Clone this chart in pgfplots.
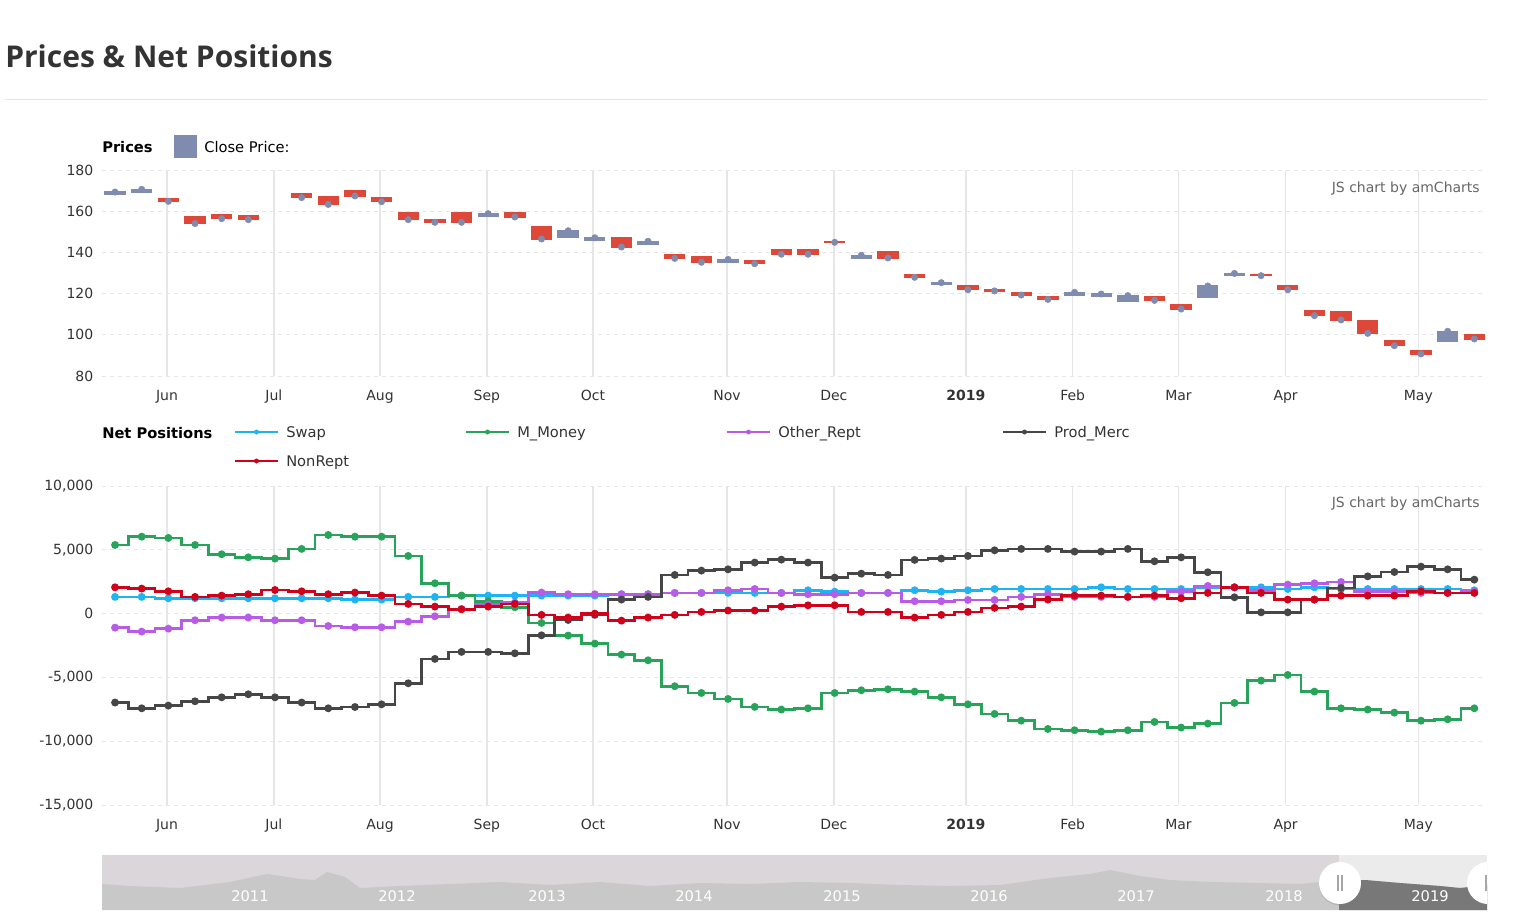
\documentclass[border=0pt]{standalone}
\usepackage{pgfplots}
\pgfplotsset{compat=1.18}
\usepackage{pgfplotstable}
\usepackage{fontspec}
\setmainfont{DejaVu Sans}
\newfontfamily\titlefont{Open Sans}
\usetikzlibrary{shadows}
\definecolor{txt}{RGB}{51,51,51}
\definecolor{upc}{RGB}{127,140,176}
\definecolor{dnc}{RGB}{221,72,56}
\definecolor{gridc}{RGB}{230,230,230}
\definecolor{swapc}{RGB}{30,180,242}
\definecolor{moneyc}{RGB}{39,164,90}
\definecolor{otherc}{RGB}{184,92,232}
\definecolor{mercc}{RGB}{70,70,70}
\definecolor{nonc}{RGB}{208,2,27}
\definecolor{navbg}{RGB}{218,214,218}
\definecolor{navfg}{RGB}{200,200,200}
\definecolor{navsel}{RGB}{235,235,235}
\definecolor{navdark}{RGB}{120,120,120}

\pgfplotstableread{
x o c
0 168.0 169.3
1 169.3 170.6
14 157.3 158.8
17 147.3 150.5
18 145.9 147.1
20 143.9 145.4
23 135.4 136.6
28 137.3 138.6
31 124.7 125.3
36 119.3 120.6
37 118.7 119.8
38 116.1 119.0
41 118.0 123.7
42 128.7 129.8
50 96.7 101.7
}\upT
\pgfplotstableread{
x o c
2 165.9 164.8
3 157.2 154.0
4 158.5 156.4
5 157.8 155.9
7 168.5 166.6
8 167.1 163.3
9 169.8 167.4
10 166.6 164.6
11 159.3 155.9
12 155.9 154.6
13 159.3 154.6
15 159.3 157.2
16 152.5 146.5
19 147.1 142.6
21 138.7 137.1
22 137.8 135.2
24 135.8 134.5
25 141.2 139.1
26 141.2 139.1
27 145.4 144.9
29 140.5 137.3
30 129.2 127.9
32 123.8 121.9
33 121.9 121.3
34 120.6 119.3
35 118.7 117.2
39 118.6 116.7
40 114.5 112.5
43 129.2 128.7
44 123.8 121.9
45 111.9 109.3
46 111.1 107.2
47 106.6 100.7
48 97.1 94.7
49 92.5 90.7
51 99.9 98.0
}\dnT
\pgfplotstableread{
x swap money other merc non
0 1310 5380 -1100 -6970 2060
1 1310 6030 -1410 -7420 1960
2 1200 5930 -1180 -7210 1750
3 1200 5380 -520 -6870 1310
4 1200 4650 -310 -6560 1410
5 1200 4410 -310 -6320 1520
6 1200 4310 -520 -6560 1850
7 1200 5070 -520 -6970 1750
8 1200 6160 -970 -7420 1520
9 1100 6030 -1070 -7320 1650
10 1100 6030 -1070 -7110 1410
11 1310 4520 -630 -5460 760
12 1310 2380 -210 -3550 550
13 1410 1410 360 -3000 340
14 1410 970 700 -3000 550
15 1410 500 860 -3110 760
16 1410 -730 1650 -1700 -100
17 1410 -1720 1520 -500 -310
18 1410 -2350 1520 -100 0
19 1520 -3210 1520 1100 -550
20 1520 -3660 1520 1310 -310
21 1620 -5690 1620 3030 -100
22 1620 -6220 1620 3370 130
23 1620 -6690 1830 3470 240
24 1620 -7310 1930 4000 240
25 1620 -7520 1620 4230 550
26 1830 -7420 1520 4000 650
27 1720 -6220 1520 2820 650
28 1620 -6010 1620 3130 130
29 1620 -5930 1620 3030 130
30 1830 -6110 970 4210 -310
31 1720 -6560 970 4310 -100
32 1830 -7110 1070 4520 130
33 1930 -7860 1070 4960 450
34 1930 -8390 1310 5070 550
35 1930 -9040 1520 5070 1100
36 1930 -9140 1310 4860 1410
37 2060 -9250 1310 4860 1410
38 1930 -9140 1310 5070 1310
39 1930 -8490 1310 4100 1410
40 1930 -8930 1720 4410 1200
41 2060 -8620 2170 3240 1620
42 2060 -7000 2060 1280 2060
43 2060 -5250 1830 100 1620
44 1930 -4810 2270 100 1100
45 2060 -6110 2380 1100 1100
46 1930 -7420 2480 2010 1410
47 1930 -7520 1720 2920 1410
48 1930 -7760 1720 3260 1410
49 1930 -8390 1620 3680 1750
50 1930 -8280 1620 3470 1620
51 1830 -7420 1720 2660 1620
}\netT
\pgfplotstableread{
x h
102 26
130 24
180 22
230 28
267 36
300 31
315 30
327 38
345 33
360 22
400 24
450 26
500 28
550 25
600 28
650 24
700 27
750 26
800 28
850 27
900 25
950 24
1000 25
1050 32
1090 36
1110 40
1140 34
1170 30
1210 28
1260 27
1300 26
1339 30
1365 30
1400 27
1440 24
1460 22
1487 25
}\navT

\pgfplotsset{
  base/.style={
    scale only axis, width=1037.25pt,
    xmin=-0.49, xmax=51.4,
    axis line style={draw=none}, tick style={draw=none},
    xtick={1.95,5.96,9.94,13.95,17.93,22.96,26.97,31.92,35.93,39.9,43.92,48.9},
    xticklabels={Jun,Jul,Aug,Sep,Oct,Nov,Dec,\textbf{2019},Feb,Mar,Apr,May},
    xmajorgrids, ymajorgrids,
    x grid style={gridc, line width=1.1pt},
    y grid style={gridc, dashed, line width=0.6pt},
    ticklabel style={font=\fontsize{10.5}{12}\selectfont, text=txt},
    xticklabel style={yshift=-7pt},
    yticklabel style={xshift=-3pt},
    /pgf/number format/assume math mode=true,
    /pgf/number format/1000 sep={,},
    clip=false,
  },
  net/.style={const plot mark mid, line width=2pt, mark=*, mark size=1.9pt},
}

\begin{document}
\begin{tikzpicture}[x=0.75pt,y=-0.75pt]
\path[use as bounding box] (0,0) rectangle (1522,917);
\node[anchor=base west, text=txt, inner sep=0, font=\titlefont\fontsize{22.5}{26}\selectfont\bfseries] at (5,68) {Prices \& Net Positions};
\draw[gridc, line width=0.75pt] (5,100) -- (1487,100);

% Prices legend
\node[anchor=base west, inner sep=0, font=\fontsize{11}{13}\selectfont\bfseries, text=black] at (102,152) {Prices};
\fill[upc] (174,135) rectangle (197,158);
\node[anchor=base west, inner sep=0, font=\fontsize{11}{13}\selectfont, text=black] at (204,152) {Close Price:};

\begin{axis}[base, at={(76.5pt,-282pt)}, anchor=south west, height=154.5pt,
  ymin=80, ymax=180, ytick={80,100,...,180}]
\addplot[draw=none, error bars/.cd, y dir=both, y explicit, error mark=none,
  error bar style={draw=upc, line width=16pt}]
  table[x=x, y expr={(\thisrow{o}+\thisrow{c})/2}, y error expr={abs(\thisrow{o}-\thisrow{c})/2+0.35}] {\upT};
\addplot[draw=none, error bars/.cd, y dir=both, y explicit, error mark=none,
  error bar style={draw=dnc, line width=16pt}]
  table[x=x, y expr={(\thisrow{o}+\thisrow{c})/2}, y error expr={abs(\thisrow{o}-\thisrow{c})/2+0.35}] {\dnT};
\addplot[only marks, mark=*, mark size=2.4pt, color=upc] table[x=x,y=c] {\upT};
\addplot[only marks, mark=*, mark size=2.4pt, color=upc] table[x=x,y=c] {\dnT};
\end{axis}
\node[anchor=base east, inner sep=0, font=\fontsize{10.5}{12}\selectfont, text=black!60] at (1480,192) {JS chart by amCharts};

% Net positions legend
\node[anchor=base west, inner sep=0, font=\fontsize{11}{13}\selectfont\bfseries, text=black] at (102,438) {Net Positions};
\foreach \lx/\ly/\col/\name in {235/432/swapc/Swap, 466/432/moneyc/M\_Money, 727/432/otherc/Other\_Rept, 1003/432/mercc/Prod\_Merc, 235/461/nonc/NonRept}{
  \draw[\col, line width=2pt] (\lx,\ly) -- (\lx+43,\ly);
  \fill[\col] (\lx+21.5,\ly) circle (2.5);
  \node[anchor=base west, inner sep=0, font=\fontsize{11}{13}\selectfont, text=txt] at (\lx+51,\ly+5) {\name};
}

\begin{axis}[base, at={(76.5pt,-603.75pt)}, anchor=south west, height=239.25pt,
  ymin=-15000, ymax=10000, ytick={-15000,-10000,...,10000}, scaled y ticks=false]
\addplot[net, color=swapc] table[x=x,y=swap] {\netT};
\addplot[net, color=moneyc] table[x=x,y=money] {\netT};
\addplot[net, color=otherc] table[x=x,y=other] {\netT};
\addplot[net, color=mercc] table[x=x,y=merc] {\netT};
\addplot[net, color=nonc] table[x=x,y=non] {\netT};
\end{axis}
\node[anchor=base east, inner sep=0, font=\fontsize{10.5}{12}\selectfont, text=black!60] at (1480,507) {JS chart by amCharts};

% navigator
\begin{axis}[at={(76.5pt,-682.5pt)}, anchor=south west, scale only axis,
  width=1038.75pt, height=41.25pt, xmin=102, xmax=1487, ymin=0, ymax=55,
  hide axis, axis background/.style={fill=navbg}, clip=true]
\fill[navsel] (axis cs:1339,0) rectangle (axis cs:1487,55);
\addplot[fill=navfg, draw=none] table[x=x,y=h] {\navT} \closedcycle;
\addplot[fill=navdark, draw=none, restrict x to domain=1339:1487] table[x=x,y=h] {\navT} \closedcycle;
\end{axis}
\foreach \yx/\yr in {250/2011,397/2012,547/2013,694/2014,842/2015,989/2016,1136/2017,1284/2018,1430/2019}{
  \node[inner sep=0, text=white, font=\fontsize{11}{13}\selectfont] at (\yx,896) {\yr};
}
\begin{scope}
\clip (0,0) rectangle (1487,917);
\foreach \hx in {1340,1488}{
  \fill[white, drop shadow={opacity=0.3, shadow xshift=0pt, shadow yshift=-1pt}] (\hx,883) circle (21);
  \draw[black!35, line width=0.8pt] (\hx-2,875) -- (\hx-2,891) (\hx+2,875) -- (\hx+2,891);
}
\end{scope}
\end{tikzpicture}
\end{document}
